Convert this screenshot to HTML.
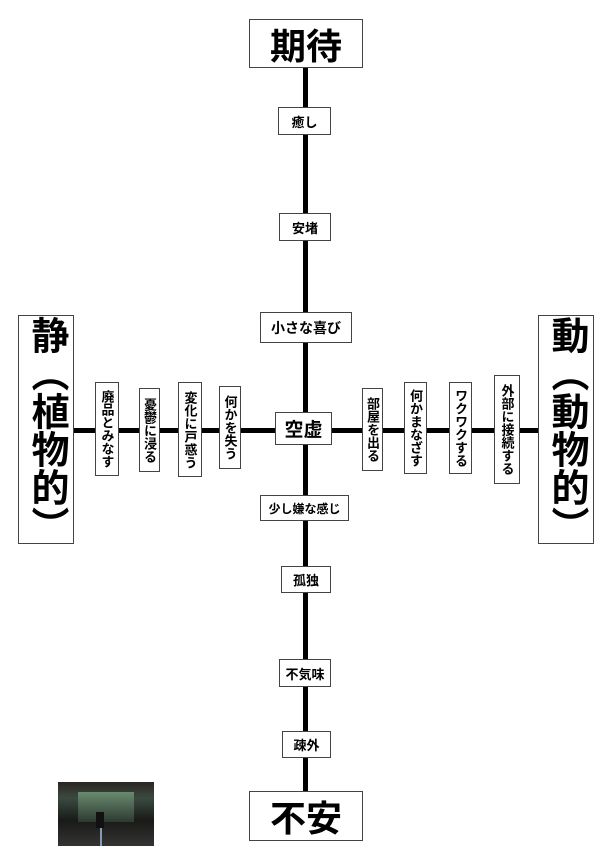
<!DOCTYPE html>
<html><head><meta charset="utf-8"><style>
body{margin:0;width:613px;height:859px;background:#fff;position:relative;overflow:hidden;font-family:"Liberation Sans","Noto Sans CJK JP",sans-serif;font-weight:bold;color:#000}
.b{position:absolute;box-sizing:border-box;border:1px solid #444;background:#fff;display:flex;align-items:center;justify-content:center;white-space:nowrap;font-size:13px}
.v{writing-mode:vertical-rl;font-size:13px;letter-spacing:0}
.big{font-size:36px}
.line{position:absolute;background:#000}
</style></head><body>
<div class="line" style="left:303px;top:60px;width:5px;height:735px"></div>
<div class="line" style="left:70px;top:428px;width:472px;height:5px"></div>

<div class="b big" style="left:249px;top:19px;width:114px;height:49px">期待</div>
<div class="b" style="left:278px;top:107px;width:53px;height:28px">癒し</div>
<div class="b" style="left:279px;top:213px;width:52px;height:28px">安堵</div>
<div class="b" style="left:260px;top:312px;width:92px;height:31px;font-size:14px">小さな喜び</div>
<div class="b" style="left:275px;top:412px;width:57px;height:33px;font-size:19px">空虚</div>
<div class="b" style="left:260px;top:495px;width:89px;height:26px;font-size:12px">少し嫌な感じ</div>
<div class="b" style="left:281px;top:566px;width:50px;height:27px">孤独</div>
<div class="b" style="left:279px;top:659px;width:52px;height:28px">不気味</div>
<div class="b" style="left:282px;top:731px;width:49px;height:27px">疎外</div>
<div class="b big" style="left:249px;top:791px;width:114px;height:50px">不安</div>

<div class="b" style="left:18px;top:315px;width:56px;height:229px"><span class="v" style="font-size:38px;line-height:1">静（植物的）</span></div>
<div class="b" style="left:538px;top:315px;width:56px;height:229px"><span class="v" style="font-size:38px;line-height:1">動（動物的）</span></div>

<div class="b" style="left:95px;top:382px;width:24px;height:94px"><span class="v">廃品とみなす</span></div>
<div class="b" style="left:139px;top:388px;width:21px;height:84px"><span class="v">憂鬱に浸る</span></div>
<div class="b" style="left:178px;top:382px;width:24px;height:95px"><span class="v">変化に戸惑う</span></div>
<div class="b" style="left:219px;top:386px;width:22px;height:83px"><span class="v">何かを失う</span></div>

<div class="b" style="left:362px;top:388px;width:21px;height:83px"><span class="v">部屋を出る</span></div>
<div class="b" style="left:404px;top:382px;width:23px;height:92px"><span class="v">何かまなざす</span></div>
<div class="b" style="left:449px;top:382px;width:23px;height:92px"><span class="v">ワクワクする</span></div>
<div class="b" style="left:494px;top:375px;width:26px;height:109px"><span class="v">外部に接続する</span></div>

<div style="position:absolute;left:58px;top:782px;width:96px;height:64px;background:linear-gradient(#2a2520,#3a4a40 25%,#1a1a18 60%,#333 100%)">
<div style="position:absolute;left:20px;top:10px;width:56px;height:30px;background:linear-gradient(#6a8a70,#2c3a30)"></div>
<div style="position:absolute;left:38px;top:30px;width:8px;height:16px;background:#111"></div>
<div style="position:absolute;left:42px;top:46px;width:2px;height:18px;background:#8899bb"></div>
</div>
</body></html>
